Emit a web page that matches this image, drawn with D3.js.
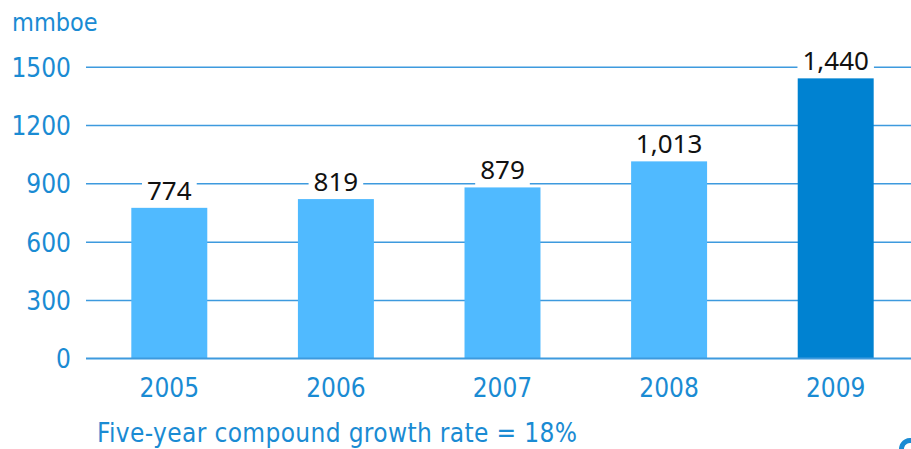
<!DOCTYPE html>
<html>
<head>
<meta charset="utf-8">
<script src="https://cdn.jsdelivr.net/npm/d3@7/dist/d3.min.js"></script>
<style>
  html, body { margin: 0; padding: 0; background: #ffffff; }
  svg { display: block; }
</style>
</head>
<body>
<svg id="chart" width="911" height="449"></svg>
<script>
// Proved reserves, million barrels of oil equivalent
const years = ["2005", "2006", "2007", "2008", "2009"];
const reserves = [774, 819, 879, 1013, 1440];
const valueLabels = ["774", "819", "879", "1,013", "1,440"];
const yTicks = [0, 300, 600, 900, 1200, 1500];
const unitLabel = "mmboe";
const footnote = "Five-year compound growth rate = 18%";

const W = 911, H = 449;
const blue = "#1a8bd3";
const gridBlue = "#3d9ade";
const barLight = "#50baff";
const barDark = "#0082d1";
const axisFont = "'DejaVu Sans Condensed', 'DejaVu Sans', sans-serif";
const labelFont = "'Noto Sans', 'Open Sans', sans-serif";

const svg = d3.select("#chart");

const x = d3.scaleBand()
  .domain(years)
  .range([86, 919])
  .paddingInner(0.544)
  .paddingOuter(0.272);

const y = d3.scaleLinear()
  .domain([0, 1500])
  .range([358.3, 66.7]);

// Horizontal gridlines with tick values on the left
const yAxis = d3.axisLeft(y)
  .tickValues(yTicks)
  .tickSize(-(W - 86))
  .tickPadding(15)
  .tickFormat(d3.format("d"));

const gy = svg.append("g")
  .attr("transform", "translate(86,0)")
  .call(yAxis);
gy.select(".domain").remove();
gy.selectAll(".tick line")
  .attr("stroke", gridBlue)
  .attr("stroke-width", 1.5);
gy.selectAll(".tick text")
  .attr("fill", blue)
  .attr("font-family", axisFont)
  .attr("font-size", 26)
  .attr("dy", "0.36em");

// Bars: the latest year highlighted in a darker blue
const data = years.map((yr, i) => ({ year: yr, value: reserves[i], label: valueLabels[i], last: i === years.length - 1 }));

svg.append("g")
  .selectAll("rect")
  .data(data)
  .join("rect")
  .attr("x", d => x(d.year))
  .attr("width", x.bandwidth())
  .attr("y", d => y(d.value))
  .attr("height", d => y(0) - y(d.value))
  .attr("fill", d => d.last ? barDark : barLight);

// Baseline redrawn over the bar bottoms
svg.append("line")
  .attr("x1", 86).attr("x2", W)
  .attr("y1", y(0)).attr("y2", y(0))
  .attr("stroke", gridBlue)
  .attr("stroke-width", 1.5);

// Value labels on white plates that break the gridlines
const labelGap = 8;
const lbl = svg.append("g")
  .selectAll("g")
  .data(data)
  .join("g");

lbl.append("rect").attr("fill", "#ffffff");
lbl.append("text")
  .attr("x", d => x(d.year) + x.bandwidth() / 2)
  .attr("y", d => y(d.value) - labelGap)
  .attr("text-anchor", "middle")
  .attr("font-family", labelFont)
  .attr("font-size", 26)
  .attr("fill", "#111111")
  .text(d => d.label);

lbl.each(function (d) {
  const g = d3.select(this);
  const bb = g.select("text").node().getBBox();
  const base = y(d.value) - labelGap;
  g.select("rect")
    .attr("x", bb.x - 5)
    .attr("width", bb.width + 10)
    .attr("y", base - 22)
    .attr("height", 28);
});

// Year labels under the bars
svg.append("g")
  .selectAll("text")
  .data(years)
  .join("text")
  .attr("x", d => x(d) + x.bandwidth() / 2)
  .attr("y", 397)
  .attr("text-anchor", "middle")
  .attr("font-family", axisFont)
  .attr("font-size", 26)
  .attr("fill", blue)
  .text(d => d);

// Unit label
svg.append("text")
  .attr("x", 12)
  .attr("y", 31)
  .attr("font-family", axisFont)
  .attr("font-size", 25)
  .attr("fill", blue)
  .text(unitLabel);

// Growth-rate note
svg.append("text")
  .attr("x", 97)
  .attr("y", 442)
  .attr("font-family", axisFont)
  .attr("font-size", 26)
  .attr("textLength", 480)
  .attr("lengthAdjust", "spacing")
  .attr("fill", blue)
  .text(footnote);

// Corner of the company mark, cut off by the page edge
svg.append("path")
  .attr("d", d3.arc()({ innerRadius: 6, outerRadius: 11, startAngle: -Math.PI * 0.95, endAngle: Math.PI * 0.1 }))
  .attr("transform", "translate(910,449)")
  .attr("fill", "#1a8bd3");
</script>
</body>
</html>
